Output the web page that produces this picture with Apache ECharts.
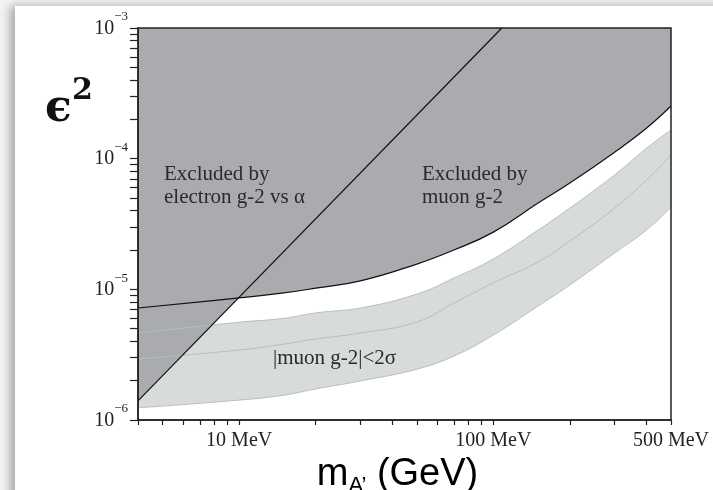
<!DOCTYPE html>
<html>
<head>
<meta charset="utf-8">
<script src="https://cdn.jsdelivr.net/npm/echarts@6/dist/echarts.min.js"></script>
<style>
  html, body { margin: 0; padding: 0; background: #f3f3f3; overflow: hidden; }
  .card { position: absolute; left: 15px; top: 6px; width: 720px; height: 500px; background: #fff;
          box-shadow: -5px 0 9px rgba(0, 0, 0, 0.3); }
  #chart { position: absolute; left: 0; top: 0; width: 713px; height: 490px; }
</style>
</head>
<body>
<div class="card"></div>
<div id="chart"></div>
<script>
  // mass of the dark photon (MeV) where the curves were read
  const massMeV    = [4, 10, 15, 20, 30, 50, 70, 100, 150, 200, 300, 400, 500];
  // muon g-2 exclusion boundary (epsilon^2)
  const muonExcl   = [7.2e-6, 8.6e-6, 9.4e-6, 1.02e-5, 1.16e-5, 1.56e-5, 2.0e-5, 2.74e-5, 4.57e-5, 6.5e-5, 1.12e-4, 1.71e-4, 2.53e-4];
  // |muon g-2| < 2 sigma band
  const bandUpper  = [4.63e-6, 5.6e-6, 6.0e-6, 6.6e-6, 7.2e-6, 9.2e-6, 1.22e-5, 1.71e-5, 2.84e-5, 4.19e-5, 7.5e-5, 1.2e-4, 1.66e-4];
  const bandCenter = [2.93e-6, 3.43e-6, 3.81e-6, 4.17e-6, 4.63e-6, 5.62e-6, 7.86e-6, 1.12e-5, 1.62e-5, 2.34e-5, 4.19e-5, 6.86e-5, 1.07e-4];
  const bandLower  = [1.24e-6, 1.42e-6, 1.55e-6, 1.73e-6, 1.99e-6, 2.45e-6, 3.09e-6, 4.47e-6, 7.45e-6, 1.08e-5, 1.9e-5, 2.84e-5, 4.26e-5];
  // electron g-2 vs alpha boundary (straight on log-log)
  const electronMass = [4, 108];
  const electronExcl = [1.4e-6, 1e-3];

  // ticks
  const xTicks  = [4, 5, 6, 7, 8, 9, 10, 20, 30, 40, 50, 60, 70, 80, 90, 100, 200, 300, 400, 500];
  const xLabels = [10, 100, 500];
  const yLabels = [1e-6, 1e-5, 1e-4, 1e-3];
  const yMult   = [1, 2, 3, 4, 5, 6, 7, 8, 9];
  const yTicks  = [];
  yLabels.slice(0, 3).forEach(d => yMult.forEach(k => yTicks.push(k * d)));
  yTicks.push(1e-3);

  const pts = (xs, ys) => xs.map((x, i) => [x, ys[i]]);

  const DARK = '#a9abae';
  const LIGHT = '#d8dcd9';
  const BANDLINE = '#b8bcc6';
  const serif = 'Liberation Serif';
  const SMOOTH = 0.45;

  const chart = echarts.init(document.getElementById('chart'));

  chart.setOption({
    animation: false,
    grid: { left: 138, top: 28, right: 42, bottom: 70, show: true, z: 10, outerBoundsMode: 'none',
            containLabel: false, borderColor: '#222', borderWidth: 1.5, backgroundColor: 'transparent' },
    xAxis: {
      type: 'log', logBase: 10, min: 4, max: 500, z: 10,
      axisLine: { lineStyle: { color: '#222', width: 1.5 } },
      axisTick: { customValues: xTicks, length: 5, lineStyle: { color: '#222', width: 1.2 } },
      axisLabel: { customValues: xLabels, formatter: v => v + ' MeV', fontFamily: serif,
                   fontSize: 20, color: '#222', margin: 11 },
      splitLine: { show: false },
      name: '{m|m}{a|A’}{m| (GeV)}',
      nameLocation: 'middle', nameGap: 35,
      nameTextStyle: {
        padding: [0, 14, 0, 0],
        rich: {
          m: { fontFamily: 'Liberation Sans', fontSize: 38, color: '#000', verticalAlign: 'bottom', padding: [0, 0, 3, 0] },
          a: { fontFamily: 'Liberation Sans', fontSize: 22, color: '#000', verticalAlign: 'bottom' }
        }
      }
    },
    yAxis: {
      type: 'log', logBase: 10, min: 1e-6, max: 1e-3, z: 10,
      axisLine: { lineStyle: { color: '#222', width: 1.5 } },
      axisTick: { customValues: yTicks, length: 8, lineStyle: { color: '#222', width: 1.2 } },
      axisLabel: {
        customValues: yLabels, margin: 10, padding: [0, 0, 7, 0],
        formatter: v => '{b|10}{s|−' + (-Math.round(Math.log10(v))) + '}',
        rich: {
          b: { fontFamily: serif, fontSize: 20, color: '#222', verticalAlign: 'bottom' },
          s: { fontFamily: serif, fontSize: 13, color: '#222', verticalAlign: 'top', padding: [0, 0, 15, 0] }
        }
      },
      splitLine: { show: false }
    },
    graphic: [
      { type: 'text', x: 45, y: 110, style: { text: 'ϵ', fontFamily: 'DejaVu Serif', fontWeight: 'bold',
        fontSize: 44, fill: '#111', verticalAlign: 'middle' } },
      { type: 'text', x: 72, y: 91, style: { text: '2', fontFamily: 'DejaVu Serif', fontWeight: 'bold',
        fontSize: 30, fill: '#111', verticalAlign: 'middle' } },
      { type: 'text', x: 164, y: 163, z: 20, style: { text: 'Excluded by\nelectron g-2 vs α', fontFamily: serif,
        fontSize: 21, lineHeight: 23, fill: '#2a2a2a', verticalAlign: 'top' } },
      { type: 'text', x: 422, y: 163, z: 20, style: { text: 'Excluded by\nmuon g-2', fontFamily: serif,
        fontSize: 21, lineHeight: 23, fill: '#2a2a2a', verticalAlign: 'top' } },
      { type: 'text', x: 273, y: 348, z: 20, style: { text: '|muon g-2|<2σ', fontFamily: serif,
        fontSize: 21, fill: '#2a2a2a', verticalAlign: 'top' } }
    ],
    series: [
      { type: 'line', data: pts(massMeV, bandUpper), symbol: 'none', smooth: SMOOTH, z: 1, silent: true,
        lineStyle: { width: 0 }, areaStyle: { color: LIGHT, opacity: 1, origin: 'start' } },
      { type: 'line', data: pts(massMeV, bandLower), symbol: 'none', smooth: SMOOTH, z: 2, silent: true,
        lineStyle: { width: 0 }, areaStyle: { color: '#fff', opacity: 1, origin: 'start' } },
      { type: 'line', data: pts(electronMass, electronExcl), symbol: 'none', z: 3, silent: true,
        lineStyle: { width: 0 }, areaStyle: { color: DARK, opacity: 1, origin: 'end' } },
      { type: 'line', data: pts(massMeV, muonExcl), symbol: 'none', smooth: SMOOTH, z: 3, silent: true,
        lineStyle: { width: 0 }, areaStyle: { color: DARK, opacity: 1, origin: 'end' } },
      { type: 'line', data: pts(massMeV, bandUpper), symbol: 'none', smooth: SMOOTH, z: 4, silent: true,
        lineStyle: { color: BANDLINE, width: 1 } },
      { type: 'line', data: pts(massMeV, bandCenter), symbol: 'none', smooth: SMOOTH, z: 4, silent: true,
        lineStyle: { color: BANDLINE, width: 1 } },
      { type: 'line', data: pts(massMeV, bandLower), symbol: 'none', smooth: SMOOTH, z: 4, silent: true,
        lineStyle: { color: BANDLINE, width: 1 } },
      { type: 'line', data: pts(electronMass, electronExcl), symbol: 'none', z: 5, silent: true,
        lineStyle: { color: '#111', width: 1.2 } },
      { type: 'line', data: pts(massMeV, muonExcl), symbol: 'none', smooth: SMOOTH, z: 5, silent: true,
        lineStyle: { color: '#111', width: 1.2 } }
    ]
  });
</script>
</body>
</html>
